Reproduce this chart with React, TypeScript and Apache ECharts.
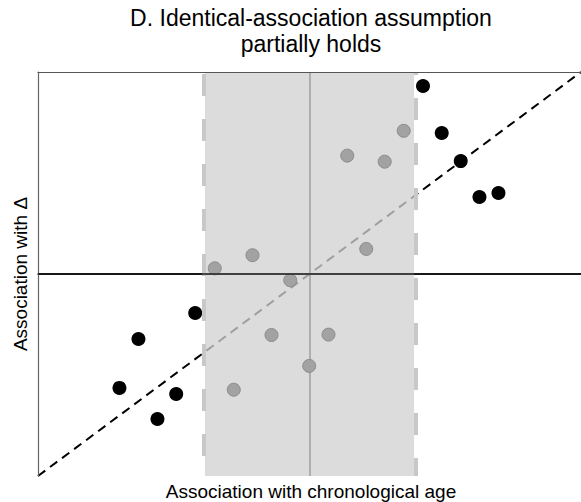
import React, { useEffect, useRef } from "react";
import * as echarts from "echarts";

// Points outside the shaded band (black)
const outsideX = [0.418, 0.487, 0.557, 0.626, 0.696, -0.421, -0.63, -0.7, -0.491, -0.56];
const outsideY = [0.931, 0.698, 0.559, 0.381, 0.401, -0.193, -0.322, -0.564, -0.594, -0.718];
// Points inside the shaded band (grey)
const insideX = [0.347, 0.139, 0.277, -0.349, -0.21, 0.209, -0.071, -0.14, 0.07, -0.001, -0.279];
const insideY = [0.709, 0.586, 0.556, 0.028, 0.093, 0.124, -0.031, -0.302, -0.3, -0.455, -0.573];
// Band limits
const bandLimits = [-0.385, 0.385];
const axisRange = [-1, 1];

const titleLines = ["D. Identical-association assumption", "partially holds"];
const xLabel = "Association with chronological age";
const yLabel = "Association with \u0394";

export default function App() {
  const ref = useRef<HTMLDivElement>(null);
  useEffect(() => {
    document.body.style.margin = "0";
    const chart = echarts.init(ref.current!, null, { renderer: "svg" });
    const font = "'Liberation Sans', Arial, Helvetica, sans-serif";
    const outside = outsideX.map((x, i) => [x, outsideY[i]]);
    const inside = insideX.map((x, i) => [x, insideY[i]]);
    chart.setOption({
      animation: false,
      backgroundColor: "#fff",
      grid: { left: 38, top: 72, width: 546, height: 404, show: false },
      xAxis: [
        {
          type: "value", min: axisRange[0], max: axisRange[1], position: "bottom", z: 10,
          axisLine: { show: true, lineStyle: { color: "#222", width: 1.5 } },
          axisTick: { show: false }, axisLabel: { show: false }, splitLine: { show: false },
        },
        {
          type: "value", min: axisRange[0], max: axisRange[1], position: "top", z: 10,
          axisLine: { show: true, lineStyle: { color: "#555", width: 1.2 } },
          axisTick: { show: false }, axisLabel: { show: false }, splitLine: { show: false },
        },
      ],
      yAxis: {
        type: "value", min: axisRange[0], max: axisRange[1], z: 10,
        axisLine: { show: true, onZero: false, lineStyle: { color: "#666", width: 1.2 } },
        axisTick: { show: false }, axisLabel: { show: false }, splitLine: { show: false },
      },
      graphic: [
        {
          type: "text", x: 311, y: 18,
          style: { text: titleLines[0], font: `23px ${font}`, fill: "#000", align: "center", verticalAlign: "middle" },
        },
        {
          type: "text", x: 311, y: 44,
          style: { text: titleLines[1], font: `23px ${font}`, fill: "#000", align: "center", verticalAlign: "middle" },
        },
        {
          type: "text", x: 311, y: 491,
          style: { text: xLabel, font: `19px ${font}`, fill: "#000", align: "center", verticalAlign: "middle" },
        },
        {
          type: "text", x: 20, y: 274, rotation: Math.PI / 2,
          style: { text: yLabel, font: `19px ${font}`, fill: "#000", align: "center", verticalAlign: "middle" },
        },
      ],
      series: [
        {
          type: "scatter", name: "outside", z: 2, data: outside, symbolSize: 14,
          itemStyle: { color: "#000", opacity: 1 }, silent: true,
          markLine: {
            z: 5, silent: true, symbol: "none", label: { show: false },
            data: [
              { yAxis: 0, lineStyle: { color: "#000", width: 2, type: "solid" } },
              { xAxis: 0, lineStyle: { color: "#000", width: 1.5, type: "solid" } },
              [
                { coord: [axisRange[0], axisRange[0]], lineStyle: { color: "#000", width: 2, type: [9, 6] } },
                { coord: [axisRange[1], axisRange[1]] },
              ],
            ],
          },
        },
        {
          type: "scatter", name: "band", z: 6, data: [], silent: true,
          markArea: {
            z: 6, silent: true,
            itemStyle: { color: "rgba(209,209,209,0.76)" },
            data: [[{ xAxis: bandLimits[0] }, { xAxis: bandLimits[1] }]],
          },
        },
        {
          type: "scatter", name: "bandEdges", z: 7, data: [], silent: true,
          markLine: {
            z: 7, silent: true, symbol: "none", label: { show: false },
            data: [
              { xAxis: bandLimits[0], lineStyle: { color: "#c8c8c8", width: 4, type: [22, 23], dashOffset: 25 } },
              { xAxis: bandLimits[1], lineStyle: { color: "#c8c8c8", width: 4, type: [22, 23], dashOffset: 4 } },
            ],
          },
        },
        {
          type: "scatter", name: "inside", z: 8, data: inside, symbolSize: 13,
          itemStyle: { color: "#a2a2a2", borderColor: "#8c8c8c", borderWidth: 1, opacity: 1 }, silent: true,
        },
      ],
    });
    return () => chart.dispose();
  }, []);
  return <div ref={ref} style={{ width: 581, height: 502 }} />;
}
